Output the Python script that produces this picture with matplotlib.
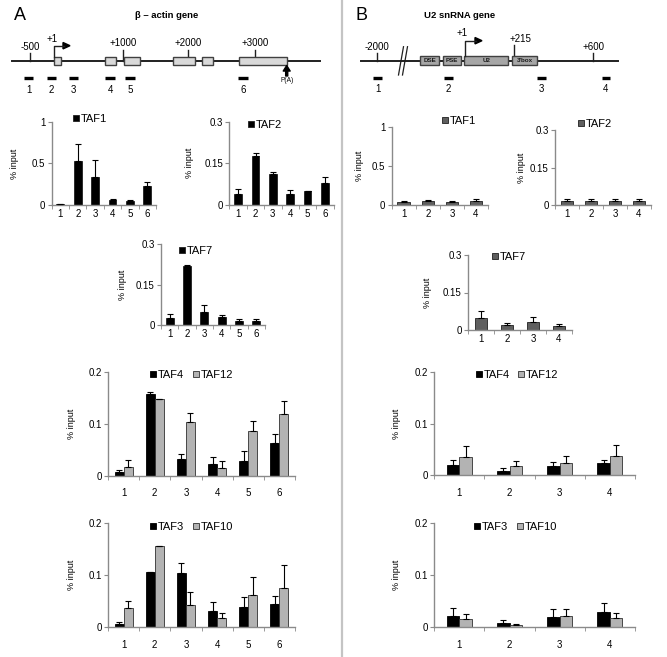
import numpy as np
import matplotlib
matplotlib.use('Agg')
import matplotlib.pyplot as plt
from matplotlib.patches import Rectangle, Patch

plt.rcParams['font.family'] = ['Liberation Sans', 'DejaVu Sans']

W, H = 667, 657

# ---- data (% input) ----
a_sites = ['1', '2', '3', '4', '5', '6']
b_sites = ['1', '2', '3', '4']

a_taf1 = [0.01, 0.53, 0.335, 0.06, 0.045, 0.225]
a_taf1_err = [0.0, 0.2, 0.2, 0.005, 0.01, 0.055]
a_taf2 = [0.037, 0.175, 0.11, 0.04, 0.048, 0.077]
a_taf2_err = [0.018, 0.012, 0.008, 0.012, 0.002, 0.022]
a_taf7 = [0.027, 0.22, 0.05, 0.029, 0.016, 0.014]
a_taf7_err = [0.014, 0.002, 0.024, 0.008, 0.008, 0.008]

b_taf1 = [0.04, 0.055, 0.035, 0.055]
b_taf1_err = [0.01, 0.015, 0.015, 0.025]
b_taf2 = [0.015, 0.015, 0.015, 0.015]
b_taf2_err = [0.01, 0.01, 0.01, 0.01]
b_taf7 = [0.048, 0.02, 0.033, 0.015]
b_taf7_err = [0.027, 0.01, 0.019, 0.008]

a_taf4 = [0.0077, 0.158, 0.032, 0.022, 0.028, 0.062]
a_taf4_err = [0.004, 0.002, 0.01, 0.014, 0.02, 0.019]
a_taf12 = [0.0167, 0.147, 0.104, 0.0154, 0.086, 0.119]
a_taf12_err = [0.013, 0.001, 0.016, 0.012, 0.019, 0.025]
a_taf3 = [0.007, 0.106, 0.105, 0.031, 0.039, 0.045]
a_taf3_err = [0.003, 0.001, 0.018, 0.018, 0.019, 0.015]
a_taf10 = [0.037, 0.156, 0.042, 0.017, 0.062, 0.075]
a_taf10_err = [0.013, 0.001, 0.025, 0.01, 0.035, 0.044]

b_taf4 = [0.0194, 0.009, 0.019, 0.0246]
b_taf4_err = [0.0106, 0.005, 0.006, 0.0054]
b_taf12 = [0.036, 0.0175, 0.024, 0.0375]
b_taf12_err = [0.021, 0.0095, 0.0135, 0.0215]
b_taf3 = [0.0224, 0.0083, 0.0205, 0.0295]
b_taf3_err = [0.0146, 0.0057, 0.0145, 0.0175]
b_taf10 = [0.016, 0.0045, 0.0218, 0.0173]
b_taf10_err = [0.01, 0.0025, 0.013, 0.0097]

FS = 7      # ticks / schematic
LFS = 8     # legend
SPINE = '#8a8a8a'
DARK = '#5f5f5f'
LIGHT = '#b3b3b3'

fig = plt.figure(figsize=(W / 100, H / 100), dpi=100)


def add_ax(l, r, t, b):
    return fig.add_axes([l / W, 1 - b / H, (r - l) / W, (b - t) / H])


def style(ax, n, ymax, yticks, ylabels, ylab_x, l, r, xpad):
    ax.set_xlim(0.5, n + 0.5)
    ax.set_ylim(0, ymax)
    for s in ['top', 'right']:
        ax.spines[s].set_visible(False)
    for s in ['left', 'bottom']:
        ax.spines[s].set_color(SPINE)
        ax.spines[s].set_linewidth(1)
    ax.set_xticks(np.arange(1, n + 1))
    ax.set_xticks(np.arange(0.5, n + 1), minor=True)
    ax.tick_params(axis='x', which='major', length=0, pad=xpad, labelsize=FS)
    ax.tick_params(axis='x', which='minor', length=3, color=SPINE, direction='out')
    ax.set_yticks(yticks)
    ax.set_yticklabels(ylabels)
    ax.tick_params(axis='y', length=3, color=SPINE, pad=1.5, labelsize=FS)
    ax.set_ylabel('% input', fontsize=6.5)
    ax.yaxis.set_label_coords((ylab_x + 4 - l) / (r - l), 0.5)


def single(pos, vals, errs, name, color, sites, ymax, yticks, ylabels, ylab_x, leg, width=0.45):
    l, r, t, b = pos
    ax = add_ax(l, r, t, b)
    x = np.arange(1, len(vals) + 1)
    ax.bar(x, vals, width, color=color, edgecolor='#202020', linewidth=0.6, zorder=2)
    ax.errorbar(x, vals, yerr=[np.zeros(len(vals)), errs], fmt='none',
                ecolor='black', elinewidth=0.8, capsize=2.2, capthick=0.8, zorder=3)
    style(ax, len(vals), ymax, yticks, ylabels, ylab_x, l, r, 3)
    ax.set_xticklabels(sites)
    h = [Patch(facecolor=color, edgecolor='#202020', linewidth=0.6)]
    ax.legend(h, [name], loc='center left', bbox_to_anchor=(leg[0] / W, 1 - leg[1] / H),
              bbox_transform=fig.transFigure, frameon=False, fontsize=LFS,
              handlelength=0.55, handleheight=0.55, handletextpad=0.15, borderpad=0,
              borderaxespad=0)
    return ax


def pair(pos, v1, e1, v2, e2, names, sites, ylab_x, leg, width):
    l, r, t, b = pos
    ax = add_ax(l, r, t, b)
    x = np.arange(1, len(v1) + 1)
    ax.bar(x - width / 2, v1, width, color='black', edgecolor='black', linewidth=0.6, zorder=2)
    ax.bar(x + width / 2, v2, width, color=LIGHT, edgecolor='#303030', linewidth=0.6, zorder=2)
    ax.errorbar(x - width / 2, v1, yerr=[np.zeros(len(v1)), e1], fmt='none',
                ecolor='black', elinewidth=0.8, capsize=2.2, capthick=0.8, zorder=3)
    ax.errorbar(x + width / 2, v2, yerr=[np.zeros(len(v2)), e2], fmt='none',
                ecolor='black', elinewidth=0.8, capsize=2.2, capthick=0.8, zorder=3)
    style(ax, len(v1), 0.2, [0, 0.1, 0.2], ['0', '0.1', '0.2'], ylab_x, l, r, 9)
    ax.set_xticklabels(sites)
    h = [Patch(facecolor='black', edgecolor='black', linewidth=0.6),
         Patch(facecolor=LIGHT, edgecolor='#303030', linewidth=0.6)]
    ax.legend(h, names, loc='center left', bbox_to_anchor=(leg[0] / W, 1 - leg[1] / H),
              bbox_transform=fig.transFigure, frameon=False, fontsize=LFS, ncol=2,
              handlelength=0.55, handleheight=0.55, handletextpad=0.15, borderpad=0,
              borderaxespad=0, columnspacing=0.8)
    return ax


# ---- panel A charts ----
single((51.7, 156, 122, 204.7), a_taf1, a_taf1_err, 'TAF1', 'black', a_sites,
       1, [0, 0.5, 1], ['0', '0.5', '1'], 15, (73, 119))
single((229.5, 333.5, 121.5, 204.7), a_taf2, a_taf2_err, 'TAF2', 'black', a_sites,
       0.3, [0, 0.15, 0.3], ['0', '0.15', '0.3'], 190, (248, 125))
single((161, 265, 244.3, 325), a_taf7, a_taf7_err, 'TAF7', 'black', a_sites,
       0.3, [0, 0.15, 0.3], ['0', '0.15', '0.3'], 123, (179, 251))
pair((108, 295, 371.7, 475.7), a_taf4, a_taf4_err, a_taf12, a_taf12_err,
     ['TAF4', 'TAF12'], a_sites, 72, (150, 375), 0.29)
pair((108, 295, 523.3, 627.3), a_taf3, a_taf3_err, a_taf10, a_taf10_err,
     ['TAF3', 'TAF10'], a_sites, 72, (150, 527), 0.29)

# ---- panel B charts ----
single((391.7, 488, 127, 205), b_taf1, b_taf1_err, 'TAF1', DARK, b_sites,
       1, [0, 0.5, 1], ['0', '0.5', '1'], 360, (441.5, 121), width=0.52)
single((555, 651, 130, 205), b_taf2, b_taf2_err, 'TAF2', DARK, b_sites,
       0.3, [0, 0.15, 0.3], ['0', '0.15', '0.3'], 522, (578, 124), width=0.52)
single((468, 572, 255, 330), b_taf7, b_taf7_err, 'TAF7', DARK, b_sites,
       0.3, [0, 0.15, 0.3], ['0', '0.15', '0.3'], 428, (491.5, 257), width=0.45)
pair((434.3, 635, 372.3, 475.3), b_taf4, b_taf4_err, b_taf12, b_taf12_err,
     ['TAF4', 'TAF12'], b_sites, 397, (475.5, 375), 0.25)
pair((434.3, 635, 523.3, 627.3), b_taf3, b_taf3_err, b_taf10, b_taf10_err,
     ['TAF3', 'TAF10'], b_sites, 397, (474, 527), 0.25)

# ---- gene schematics (drawn in pixel space) ----
g = fig.add_axes([0, 0, 1, 1], zorder=-1)
g.set_xlim(0, W)
g.set_ylim(H, 0)
g.axis('off')

# divider between A and B
g.plot([342, 342], [0, H], color='#c4c4c4', lw=1.6)

g.text(20, 16, 'A', fontsize=13, ha='center', va='center')
g.text(361.7, 15, 'B', fontsize=13, ha='center', va='center')
g.text(167, 15, 'β – actin gene', fontsize=6.8, fontweight='bold', ha='center', va='center')
g.text(460, 15, 'U2 snRNA gene', fontsize=6.8, fontweight='bold', ha='center', va='center')

# beta-actin
a_exons = [(54, 60.7), (105, 115.7), (124, 140), (172.7, 195), (201.7, 213.3), (239.3, 286.7)]
a_marks = [(30, '-500', 53.3), (122.7, '+1000', 50), (188.3, '+2000', 50), (255.3, '+3000', 50)]
a_primers = [(24, 33.3), (46.7, 56), (69, 78.3), (105.3, 114.7), (125.3, 134.7), (238.3, 247.7)]
g.plot([11.7, 320], [60.7, 60.7], color='#202020', lw=1.4, zorder=1)
for x0, x1 in a_exons:
    g.add_patch(Rectangle((x0, 56.7), x1 - x0, 8.3, facecolor='#d9d9d9',
                          edgecolor='#404040', lw=1, zorder=2))
for x, lab, ytop in a_marks:
    yb = 60.7 if lab in ('-500', '+1000') else 56.7
    g.plot([x, x], [ytop, yb], color='#202020', lw=1, zorder=1)
    g.text(x, ytop - 1.5, lab, fontsize=FS, ha='center', va='bottom')
for i, (x0, x1) in enumerate(a_primers):
    g.plot([x0, x1], [78.3, 78.3], color='black', lw=2.4, solid_capstyle='butt')
    g.text((x0 + x1) / 2, 90, str(i + 1), fontsize=FS, ha='center', va='center')
# +1 arrow
g.plot([54, 54, 63.5], [56.7, 45.7, 45.7], color='#202020', lw=1)
g.fill([63, 70, 63], [42.5, 45.7, 48.9], color='black')
g.text(52, 39, '+1', fontsize=FS, ha='center', va='center')
# polyA arrow
g.annotate('', xy=(286.7, 65.5), xytext=(286.7, 76),
           arrowprops=dict(facecolor='black', edgecolor='black', width=1.5,
                           headwidth=5, headlength=4, shrink=0))
g.text(286.7, 81, 'P(A)', fontsize=4.8, ha='center', va='center')

# U2 snRNA
g.plot([360.7, 618.3], [60.7, 60.7], color='#202020', lw=1.4, zorder=1)
g.plot([398.5, 403.5], [75, 46.7], color='#202020', lw=0.9)
g.plot([402.5, 407.5], [75, 46.7], color='#202020', lw=0.9)
b_boxes = [(420, 439, 'DSE'), (443.3, 460.7, 'PSE'), (464.3, 508.3, 'U2'), (512, 537.3, "3'box")]
for x0, x1, lab in b_boxes:
    g.add_patch(Rectangle((x0, 55.7), x1 - x0, 9.3, facecolor='#a6a6a6',
                          edgecolor='#404040', lw=1, zorder=2))
    g.text((x0 + x1) / 2, 60.5, lab, fontsize=4.5, fontweight='bold', ha='center',
           va='center', color='#1a1a1a', zorder=3)
b_marks = [(377.3, '-2000', 53.3, 60.7), (514, '+215', 45, 55.7), (593.3, '+600', 53.3, 60.7)]
for x, lab, yt, yb in b_marks:
    g.plot([x, x], [yt, yb], color='#202020', lw=1, zorder=1)
    g.text(x + (6 if lab == '+215' else 0), yt - 1.5, lab, fontsize=FS, ha='center', va='bottom')
b_primers = [(373.3, 381.7), (444.3, 452.7), (537.3, 545.7), (601.7, 610)]
for i, (x0, x1) in enumerate(b_primers):
    g.plot([x0, x1], [78.3, 78.3], color='black', lw=2.4, solid_capstyle='butt')
    g.text((x0 + x1) / 2, 89.3, str(i + 1), fontsize=FS, ha='center', va='center')
g.plot([465, 465, 475.5], [55.7, 40.7, 40.7], color='#202020', lw=1)
g.fill([475, 482, 475], [37.5, 40.7, 43.9], color='black')
g.text(462, 33.3, '+1', fontsize=FS, ha='center', va='center')

fig.savefig('out.png', dpi=100)
